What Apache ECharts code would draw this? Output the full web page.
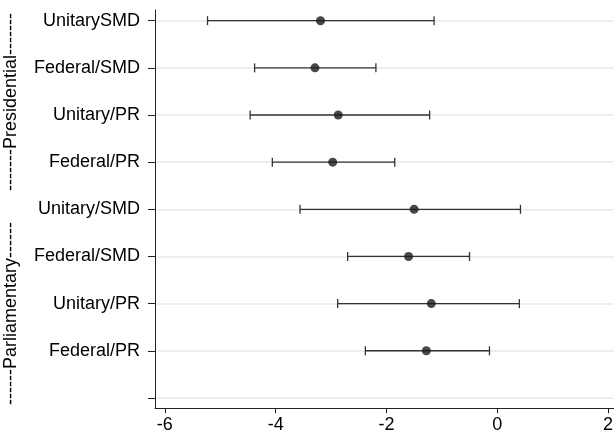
<!DOCTYPE html>
<html>
<head>
<meta charset="utf-8">
<script src="https://cdn.jsdelivr.net/npm/echarts@6/dist/echarts.min.js"></script>
<style>
  html, body { margin: 0; padding: 0; background: #fff; }
  #chart { width: 616px; height: 436px; }
</style>
</head>
<body>
<div id="chart"></div>
<script>
// rows from top to bottom; last row is empty
var categories = ['UnitarySMD', 'Federal/SMD', 'Unitary/PR', 'Federal/PR',
                  'Unitary/SMD', 'Federal/SMD', 'Unitary/PR', 'Federal/PR', ''];
var estimates = [-3.19, -3.29, -2.87, -2.97, -1.50, -1.60, -1.19, -1.28];
var lower     = [-5.23, -4.38, -4.46, -4.06, -3.56, -2.70, -2.88, -2.38];
var upper     = [-1.14, -2.19, -1.22, -1.85,  0.42, -0.50,  0.40, -0.14];
var xTicks = [-6, -4, -2, 0, 2];
var rowTicks = [1, 2, 3, 4, 5, 6, 7, 8, 9];
var groupLabels = ['-------Presidential-------', '------Parliamentary------'];

var font = 'Liberation Sans, Arial, sans-serif';

var barData = estimates.map(function (v, i) { return [lower[i], upper[i], i + 1]; });
var pointData = estimates.map(function (v, i) { return [v, i + 1]; });

var myChart = echarts.init(document.getElementById('chart'));

var option = {
  animation: false,
  backgroundColor: '#fff',
  grid: {
    left: 155,
    top: 10,
    width: 464.6,
    height: 398.3
  },
  xAxis: {
    type: 'value',
    min: -6.178,
    max: 2.1,
    axisLine: { show: true, onZero: false, lineStyle: { color: '#222', width: 1 } },
    axisTick: { show: true, length: 5, customValues: xTicks, lineStyle: { color: '#222' } },
    axisLabel: { customValues: xTicks, color: '#000', fontSize: 18, fontFamily: font, margin: 8 },
    splitLine: { show: false }
  },
  yAxis: {
    type: 'value',
    inverse: true,
    min: 0.773,
    max: 9.22,
    axisLine: { show: true, onZero: false, lineStyle: { color: '#222', width: 1 } },
    axisTick: { show: true, length: 7, customValues: rowTicks, lineStyle: { color: '#222' } },
    axisLabel: {
      customValues: rowTicks,
      color: '#000', fontSize: 18, fontFamily: font, margin: 15,
      formatter: function (v) { return categories[Math.round(v) - 1] || ''; }
    },
    splitLine: { show: true, lineStyle: { color: '#e8e8e8', width: 1.5 } }
  },
  graphic: [
    {
      type: 'text', left: 2, top: 13,
      rotation: Math.PI / 2,
      style: { text: groupLabels[0], fill: '#000', font: '18px ' + font }
    },
    {
      type: 'text', left: 2, top: 222,
      rotation: Math.PI / 2,
      style: { text: groupLabels[1], fill: '#000', font: '18px ' + font }
    }
  ],
  series: [
    {
      type: 'custom',
      data: barData,
      renderItem: function (params, api) {
        var y = api.value(2);
        var a = api.coord([api.value(0), y]);
        var b = api.coord([api.value(1), y]);
        var h = 4.5;
        var st = { stroke: '#333', lineWidth: 1.3 };
        return {
          type: 'group',
          children: [
            { type: 'line', shape: { x1: a[0], y1: a[1], x2: b[0], y2: b[1] }, style: st },
            { type: 'line', shape: { x1: a[0], y1: a[1] - h, x2: a[0], y2: a[1] + h }, style: st },
            { type: 'line', shape: { x1: b[0], y1: b[1] - h, x2: b[0], y2: b[1] + h }, style: st }
          ]
        };
      },
      z: 2
    },
    {
      type: 'scatter',
      data: pointData,
      symbol: 'circle',
      symbolSize: 9,
      itemStyle: { color: '#1a1a1a' },
      z: 3
    }
  ]
};

myChart.setOption(option);
</script>
</body>
</html>
